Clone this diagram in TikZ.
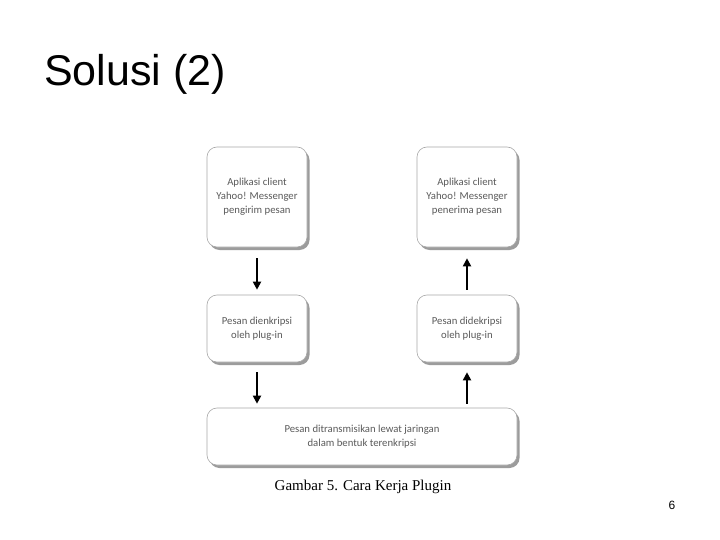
\documentclass[tikz,border=0pt]{standalone}
\usepackage{fontspec}
\setmainfont{Liberation Serif}
\setsansfont{Liberation Sans}
\newfontfamily\boxfont{Carlito}
\usetikzlibrary{shadows,arrows.meta}

\definecolor{boxtext}{HTML}{5A5A5A}
\definecolor{boxline}{HTML}{A8A8A8}

\tikzset{
    stepbox/.style={draw=boxline, line width=0.6pt, fill=white, rounded corners=10pt,
        inner sep=0pt, align=center, text=boxtext, minimum width=100pt,
        font=\boxfont\fontsize{10.7}{14}\selectfont,
        drop shadow={shadow xshift=2.5pt, shadow yshift=-3pt, fill=black!55, opacity=0.7}},
    flow/.style={line width=1.8pt, -{Triangle[length=8pt,width=8pt]}}
}

\begin{document}
\begin{tikzpicture}[x=1pt, y=-1pt]
    % ===== PAGE =====
    \useasboundingbox (0,0) rectangle (720,540);
    \fill[white] (0,0) rectangle (720,540);

    % ===== TITLE =====
    \node[anchor=base west, inner sep=0pt, font=\sffamily\fontsize{43}{50}\selectfont] (title) at (44,86) {Solusi (2)};

    % ===== BOXES =====
    % sender side (left)
    \node[stepbox, minimum height=100pt] (pengirim) at (257,197)
        {Aplikasi client\\Yahoo! Messenger\\pengirim pesan};
    \node[stepbox, minimum height=67pt] (enkripsi) at (257,328.5)
        {Pesan dienkripsi\\oleh plug-in};
    % receiver side (right)
    \node[stepbox, minimum height=100pt] (penerima) at (467,197)
        {Aplikasi client\\Yahoo! Messenger\\penerima pesan};
    \node[stepbox, minimum height=67pt] (dekripsi) at (467,328.5)
        {Pesan didekripsi\\oleh plug-in};
    % network
    \node[stepbox, minimum width=310pt, minimum height=57pt] (jaringan) at (362,436.5)
        {Pesan ditransmisikan lewat jaringan\\dalam bentuk terenkripsi};

    % ===== ARROWS =====
    \draw[flow, shorten <=11pt, shorten >=5pt] (pengirim) -- (enkripsi);
    \draw[flow, shorten <=10pt, shorten >=4pt] (enkripsi.south) -- (enkripsi.south |- jaringan.north);
    \draw[flow, shorten <=4pt, shorten >=10pt] (dekripsi.south |- jaringan.north) -- (dekripsi.south);
    \draw[flow, shorten <=5pt, shorten >=11pt] (dekripsi) -- (penerima);

    % ===== CAPTION & PAGE NUMBER =====
    \node[font=\fontsize{15}{18}\selectfont] (caption) at (363,487) {Gambar 5. Cara Kerja Plugin};
    \node[font=\sffamily\fontsize{12}{14}\selectfont] (page) at (672,505) {6};
\end{tikzpicture}
\end{document}
